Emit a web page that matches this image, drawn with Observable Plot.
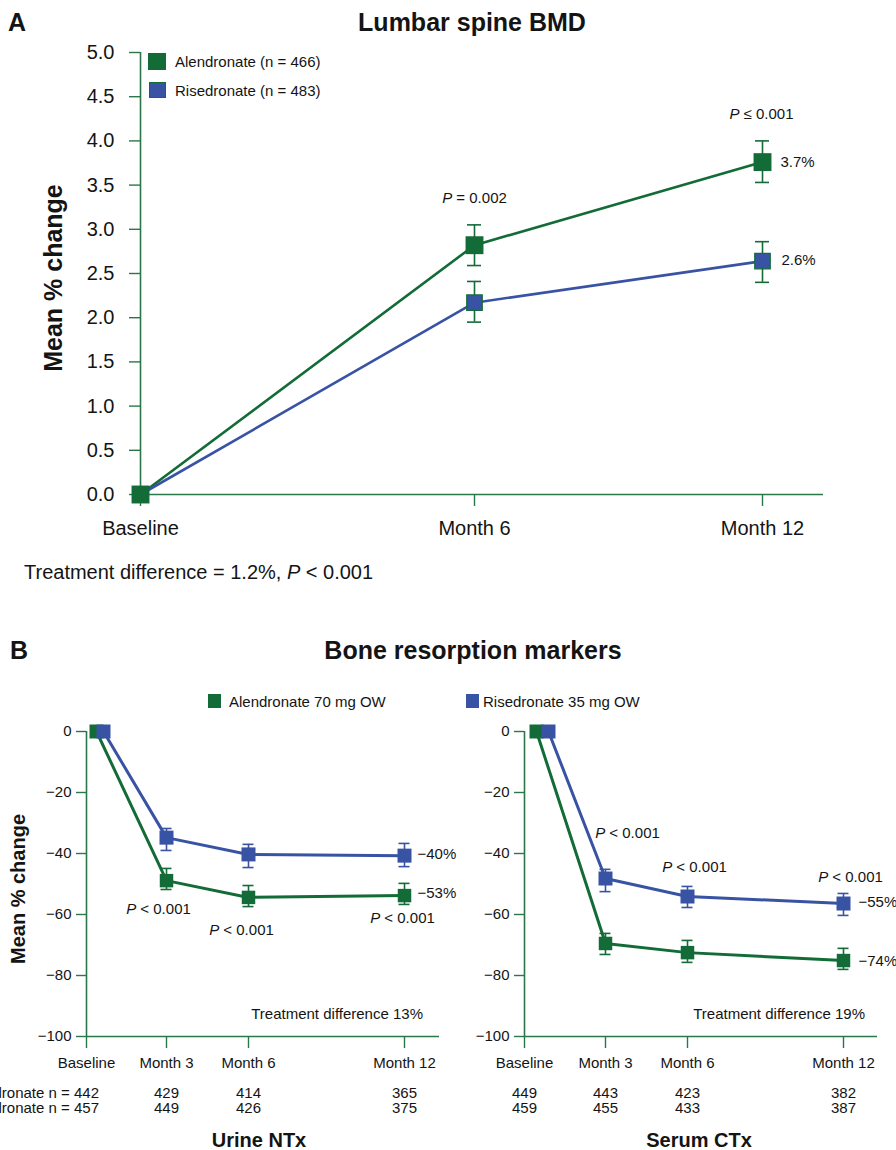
<!DOCTYPE html>
<html><head><meta charset="utf-8">
<script src="https://cdn.jsdelivr.net/npm/d3@7"></script>
<script src="https://cdn.jsdelivr.net/npm/@observablehq/plot@0.6"></script>
<style>
body{margin:0;background:#fff;font-family:"Liberation Sans",Arial,Helvetica,sans-serif;}
#root{position:relative;width:896px;height:1150px;overflow:hidden;background:#fff;}
.lbl{position:absolute;white-space:nowrap;line-height:1;color:#141414;}
#root svg{position:absolute;left:0;overflow:visible;background:transparent;}
.sq{position:absolute;box-sizing:border-box;}
</style></head><body><div id="root"></div>
<script>
// ---------- Panel A: Lumbar spine BMD ----------
const bmdMonths = [0, 6, 12];
const bmdLabels = ["Baseline", "Month 6", "Month 12"];
const bmdTicks = [0, 0.5, 1, 1.5, 2, 2.5, 3, 3.5, 4, 4.5, 5];
const bmdAlendronate   = [0, 2.82, 3.76];
const bmdAlendronateLo = [0, 2.59, 3.53];
const bmdAlendronateHi = [0, 3.05, 4.00];
const bmdRisedronate   = [0, 2.17, 2.64];
const bmdRisedronateLo = [0, 1.95, 2.40];
const bmdRisedronateHi = [0, 2.41, 2.86];
const bmdEndLabels = ["3.7%", "2.6%"];           // Alendronate, Risedronate at Month 12
const bmdPLabels = ["P = 0.002", "P ≤ 0.001"];   // Month 6, Month 12
const seriesA = ["Alendronate (n = 466)", "Risedronate (n = 483)"];

// ---------- Panel B: Bone resorption markers ----------
const brmMonths = [0, 3, 6, 12];
const brmLabels = ["Baseline", "Month 3", "Month 6", "Month 12"];
const brmTicks = [0, -20, -40, -60, -80, -100];
const seriesB = ["Alendronate 70 mg OW", "Risedronate 35 mg OW"];
// Urine NTx
const ntxAlendronate   = [0, -48.9, -54.4, -53.8];
const ntxAlendronateHi = [0, -44.9, -50.5, -49.8];
const ntxAlendronateLo = [0, -51.8, -57.4, -56.7];
const ntxRisedronate   = [0, -34.8, -40.3, -40.7];
const ntxRisedronateHi = [0, -31.8, -37.0, -36.7];
const ntxRisedronateLo = [0, -39.0, -44.6, -44.3];
const ntxNAlendronate = [442, 429, 414, 365];
const ntxNRisedronate = [457, 449, 426, 375];
const ntxEndLabels = ["−53%", "−40%"];
// Serum CTx
const ctxAlendronate   = [0, -69.5, -72.5, -75.1];
const ctxAlendronateHi = [0, -66.2, -68.5, -71.1];
const ctxAlendronateLo = [0, -73.1, -75.7, -78.0];
const ctxRisedronate   = [0, -48.2, -54.1, -56.4];
const ctxRisedronateHi = [0, -45.2, -50.8, -53.1];
const ctxRisedronateLo = [0, -52.5, -57.7, -60.3];
const ctxNAlendronate = [449, 443, 423, 382];
const ctxNRisedronate = [459, 455, 433, 387];
const ctxEndLabels = ["−74%", "−55%"];
const pLabelB = "P < 0.001";

const GREEN = "#136b38", BLUE = "#3953a4", AXIS = "#2a7849", INK = "#141414";
const FONT = "Liberation Sans, Arial, Helvetica, sans-serif";
const root = document.getElementById("root");

function label(html, x, y, {size = 15, weight = "normal", anchor = "start", rotate = 0} = {}) {
  const d = document.createElement("div");
  d.className = "lbl"; d.innerHTML = html;
  d.style.left = x + "px"; d.style.top = y + "px";
  d.style.fontSize = size + "px"; d.style.fontWeight = weight;
  const tx = anchor === "start" ? "0" : anchor === "middle" ? "-50%" : "-100%";
  d.style.transform = `translate(${tx},-50%)` + (rotate ? ` rotate(${rotate}deg)` : "");
  root.appendChild(d);
}
function square(x, y, w, h, fill, border) {
  const d = document.createElement("div");
  d.className = "sq";
  Object.assign(d.style, {left: x + "px", top: y + "px", width: w + "px", height: h + "px", background: fill});
  if (border) d.style.border = border;
  root.appendChild(d);
}
function italicP(svg) {
  svg.querySelectorAll("text").forEach(t => {
    const s = t.textContent;
    if (/^P [=<≤]/.test(s) && t.children.length === 0) {
      t.textContent = "";
      const a = document.createElementNS("http://www.w3.org/2000/svg", "tspan");
      a.setAttribute("font-style", "italic"); a.textContent = "P";
      const b = document.createElementNS("http://www.w3.org/2000/svg", "tspan");
      b.textContent = s.slice(1);
      t.appendChild(a); t.appendChild(b);
    }
  });
}
function place(svg, top) {
  svg.style.top = top + "px";
  italicP(svg);
  root.appendChild(svg);
}
// curve that shifts only the first vertex horizontally (baseline dodge)
function shiftFirst(px) {
  return context => {
    const c = d3.curveLinear(context);
    let i = 0;
    return {
      areaStart() { c.areaStart(); }, areaEnd() { c.areaEnd(); },
      lineStart() { i = 0; c.lineStart(); }, lineEnd() { c.lineEnd(); },
      point(x, y) { c.point(i++ === 0 ? x + px : x, y); }
    };
  };
}

// ================= Panel A =================
const rowsA = bmdMonths.map((m, i) => ({
  m, a: bmdAlendronate[i], aLo: bmdAlendronateLo[i], aHi: bmdAlendronateHi[i],
  r: bmdRisedronate[i], rLo: bmdRisedronateLo[i], rHi: bmdRisedronateHi[i]
}));
const rowsAe = rowsA.filter(d => d.m > 0);
const lastA = rowsA[rowsA.length - 1];
const midA = rowsA[1];

const plotA = Plot.plot({
  width: 896, height: 545,
  marginTop: 52, marginBottom: 51, marginLeft: 140, marginRight: 73,
  style: {fontFamily: FONT, background: "transparent", color: INK},
  x: {type: "linear", domain: bmdMonths, range: [140, 474, 762]},
  y: {domain: [0, 5]},
  marks: [
    Plot.ruleX([0], {stroke: AXIS, strokeWidth: 1.6}),
    Plot.ruleY([0], {stroke: AXIS, strokeWidth: 1.6}),
    Plot.axisY({ticks: bmdTicks, tickFormat: d3.format(".1f"), tickSize: 11, tickPadding: 15,
      fontSize: 20, stroke: AXIS, fill: INK, strokeWidth: 1.4, label: null}),
    Plot.axisX({ticks: bmdMonths, tickFormat: d => bmdLabels[bmdMonths.indexOf(d)], tickSize: 12,
      tickPadding: 14, fontSize: 20, stroke: AXIS, fill: INK, strokeWidth: 1.4, label: null}),
    Plot.line(rowsA, {x: "m", y: "a", stroke: GREEN, strokeWidth: 2.6}),
    Plot.line(rowsA, {x: "m", y: "r", stroke: BLUE, strokeWidth: 2.6}),
    Plot.ruleX(rowsAe, {x: "m", y1: "aLo", y2: "aHi", stroke: GREEN, strokeWidth: 1.6}),
    Plot.ruleY(rowsAe, {x1: "m", x2: "m", y: "aLo", insetLeft: -7, insetRight: -7, stroke: GREEN, strokeWidth: 1.6}),
    Plot.ruleY(rowsAe, {x1: "m", x2: "m", y: "aHi", insetLeft: -7, insetRight: -7, stroke: GREEN, strokeWidth: 1.6}),
    Plot.ruleX(rowsAe, {x: "m", y1: "rLo", y2: "rHi", stroke: GREEN, strokeWidth: 1.6}),
    Plot.ruleY(rowsAe, {x1: "m", x2: "m", y: "rLo", insetLeft: -7, insetRight: -7, stroke: GREEN, strokeWidth: 1.6}),
    Plot.ruleY(rowsAe, {x1: "m", x2: "m", y: "rHi", insetLeft: -7, insetRight: -7, stroke: GREEN, strokeWidth: 1.6}),
    Plot.dot(rowsA, {x: "m", y: "r", symbol: "square", r: 8.7, fill: BLUE, stroke: GREEN, strokeWidth: 1.3}),
    Plot.dot(rowsA, {x: "m", y: "a", symbol: "square", r: 10.1, fill: GREEN}),
    Plot.text([midA], {x: "m", y: "aHi", text: () => bmdPLabels[0], dy: -27, fontSize: 15, fill: INK}),
    Plot.text([lastA], {x: "m", y: "aHi", text: () => bmdPLabels[1], dy: -27, dx: -1, fontSize: 15, fill: INK}),
    Plot.text([lastA], {x: "m", y: "a", text: () => bmdEndLabels[0], textAnchor: "start", dx: 18, fontSize: 15, fill: INK}),
    Plot.text([lastA], {x: "m", y: "r", text: () => bmdEndLabels[1], textAnchor: "start", dx: 19, dy: -1, fontSize: 15, fill: INK})
  ]
});
place(plotA, 0);

label("A", 8, 22, {size: 25, weight: "bold"});
label("Lumbar spine BMD", 472, 22, {size: 25, weight: "bold", anchor: "middle"});
label("Mean % change", 53, 278, {size: 25, weight: "bold", anchor: "middle", rotate: -90});
square(148, 53, 18, 17, GREEN);
label(seriesA[0], 175, 61, {size: 15});
square(149, 82, 17, 16, BLUE, "1.3px solid " + GREEN);
label(seriesA[1], 175, 90, {size: 15});
label("Treatment difference = 1.2%, <i>P</i> &lt; 0.001", 24, 572, {size: 20});

// ================= Panel B =================
function panelB(cfg) {
  const rows = brmMonths.map((m, i) => ({
    m, a: cfg.alen[i], aLo: cfg.alenLo[i], aHi: cfg.alenHi[i],
    r: cfg.rise[i], rLo: cfg.riseLo[i], rHi: cfg.riseHi[i],
    nA: cfg.nA[i], nR: cfg.nR[i]
  }));
  const base = rows.filter(d => d.m === 0);
  const rest = rows.filter(d => d.m > 0);
  const T = 680, H = 470;
  const errMarks = (lo, hi, color) => [
    Plot.ruleX(rest, {x: "m", y1: lo, y2: hi, stroke: color, strokeWidth: 1.6}),
    Plot.ruleY(rest, {x1: "m", x2: "m", y: lo, insetLeft: -5.5, insetRight: -5.5, stroke: color, strokeWidth: 1.6}),
    Plot.ruleY(rest, {x1: "m", x2: "m", y: hi, insetLeft: -5.5, insetRight: -5.5, stroke: color, strokeWidth: 1.6})
  ];
  const byMonth = m => rows.find(d => d.m === m);
  const marks = [
    Plot.ruleX([0], {stroke: AXIS, strokeWidth: 1.6}),
    Plot.ruleY([-100], {stroke: AXIS, strokeWidth: 1.6}),
    Plot.axisY({ticks: brmTicks, tickFormat: d3.format("d"), tickSize: 10, tickPadding: 5,
      fontSize: 15, stroke: AXIS, fill: INK, strokeWidth: 1.4, label: null}),
    Plot.axisX({ticks: brmMonths, tickFormat: d => brmLabels[brmMonths.indexOf(d)], tickSize: 12,
      tickPadding: 9, fontSize: 15, stroke: AXIS, fill: INK, strokeWidth: 1.4, label: null}),
    Plot.line(rows, {x: "m", y: "a", stroke: GREEN, strokeWidth: 3, curve: shiftFirst(cfg.baseDx[0])}),
    Plot.line(rows, {x: "m", y: "r", stroke: BLUE, strokeWidth: 3, curve: shiftFirst(cfg.baseDx[1])}),
    ...errMarks("aLo", "aHi", GREEN),
    ...errMarks("rLo", "rHi", BLUE),
    Plot.dot(rest, {x: "m", y: "a", symbol: "square", r: 7.6, fill: GREEN}),
    Plot.dot(base, {x: "m", y: "a", symbol: "square", r: 7.9, fill: GREEN, dx: cfg.baseDx[0]}),
    Plot.dot(rest, {x: "m", y: "r", symbol: "square", r: 7.9, fill: BLUE}),
    Plot.dot(base, {x: "m", y: "r", symbol: "square", r: 7.9, fill: BLUE, dx: cfg.baseDx[1]}),
    // n counts
    Plot.text(rows, {x: "m", text: "nA", frameAnchor: "bottom", dy: 61, fontSize: 15, fill: INK}),
    Plot.text(rows, {x: "m", text: "nR", frameAnchor: "bottom", dy: 76, fontSize: 15, fill: INK}),
    // end-value labels
    Plot.text([byMonth(12)], {x: "m", y: "a", text: () => cfg.endLabels[0], textAnchor: "start", dx: cfg.endDx, dy: cfg.endDy[0], fontSize: 15, fill: INK}),
    Plot.text([byMonth(12)], {x: "m", y: "r", text: () => cfg.endLabels[1], textAnchor: "start", dx: cfg.endDx, dy: cfg.endDy[1], fontSize: 15, fill: INK}),
    // P annotations
    ...cfg.pAnn.map(p => Plot.text([byMonth(p.m)], {x: "m", y: p.at, text: () => pLabelB, dx: p.dx, dy: p.dy, fontSize: 15, fill: INK}))
  ];
  if (cfg.prefix) {
    marks.push(Plot.text(base, {x: "m", text: () => "Alendronate n = ", frameAnchor: "bottom", dy: 61, dx: -12.5, textAnchor: "end", fontSize: 15, fill: INK}));
    marks.push(Plot.text(base, {x: "m", text: () => "Risedronate n = ", frameAnchor: "bottom", dy: 76, dx: -12.5, textAnchor: "end", fontSize: 15, fill: INK}));
  }
  const svg = Plot.plot({
    width: 896, height: H,
    marginTop: 731 - T, marginBottom: H - (1036 - T), marginLeft: cfg.range[0], marginRight: 896 - cfg.axisEnd,
    style: {fontFamily: FONT, background: "transparent", color: INK},
    x: {type: "linear", domain: brmMonths, range: cfg.range},
    y: {domain: [-100, 0]},
    marks
  });
  place(svg, T);
}

panelB({
  alen: ntxAlendronate, alenLo: ntxAlendronateLo, alenHi: ntxAlendronateHi,
  rise: ntxRisedronate, riseLo: ntxRisedronateLo, riseHi: ntxRisedronateHi,
  nA: ntxNAlendronate, nR: ntxNRisedronate, endLabels: ntxEndLabels,
  range: [86, 166, 248, 404], axisEnd: 439, baseDx: [10, 17],
  endDx: 13, endDy: [-2, -1],
  pAnn: [{m: 3, at: "aLo", dx: -8, dy: 20}, {m: 6, at: "aLo", dx: -7, dy: 24}, {m: 12, at: "aLo", dx: -2, dy: 14}],
  prefix: true
});
panelB({
  alen: ctxAlendronate, alenLo: ctxAlendronateLo, alenHi: ctxAlendronateHi,
  rise: ctxRisedronate, riseLo: ctxRisedronateLo, riseHi: ctxRisedronateHi,
  nA: ctxNAlendronate, nR: ctxNRisedronate, endLabels: ctxEndLabels,
  range: [524, 605, 687, 843], axisEnd: 877, baseDx: [12, 24],
  endDx: 15, endDy: [1, -1],
  pAnn: [{m: 3, at: "rHi", dx: 22, dy: -36}, {m: 6, at: "rHi", dx: 7, dy: -19}, {m: 12, at: "rHi", dx: 7, dy: -16}],
  prefix: false
});

label("B", 10, 650, {size: 25, weight: "bold"});
label("Bone resorption markers", 473, 650, {size: 25, weight: "bold", anchor: "middle"});
square(208, 694, 13, 14, GREEN);
label(seriesB[0], 229, 701, {size: 15});
square(466, 694, 13, 14, BLUE);
label(seriesB[1], 483, 701, {size: 15});
label("Mean % change", 17.5, 889, {size: 20, weight: "bold", anchor: "middle", rotate: -90});
label("Treatment difference 13%", 423, 1013, {size: 15, anchor: "end"});
label("Treatment difference 19%", 865, 1013, {size: 15, anchor: "end"});
label("Urine NTx", 259, 1140, {size: 20, weight: "bold", anchor: "middle"});
label("Serum CTx", 699, 1140, {size: 20, weight: "bold", anchor: "middle"});
</script></body></html>
